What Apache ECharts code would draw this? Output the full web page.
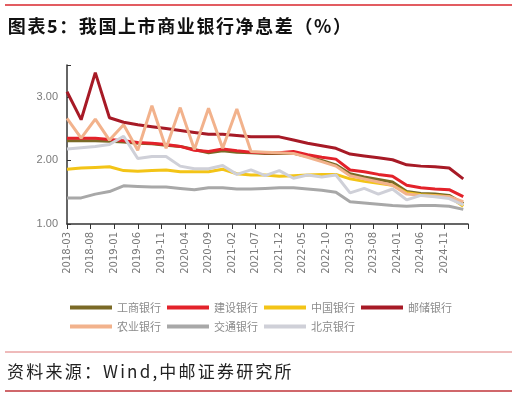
<!DOCTYPE html>
<html>
<head>
<meta charset="utf-8">
<script src="https://cdn.jsdelivr.net/npm/echarts@6/dist/echarts.min.js"></script>
<style>
html,body{margin:0;padding:0;background:#fff;}
#main{width:517px;height:397px;}
</style>
</head>
<body>
<div id="main"></div>
<script>
//季度末日期（数据点）
var quarters=['2018-03','2018-06','2018-09','2018-12','2019-03','2019-06','2019-09','2019-12',
	'2020-03','2020-06','2020-09','2020-12','2021-03','2021-06','2021-09','2021-12',
	'2022-03','2022-06','2022-09','2022-12','2023-03','2023-06','2023-09','2023-12',
	'2024-03','2024-06','2024-09','2024-12','2025-03'];

var icbc=[2.31,2.31,2.31,2.30,2.29,2.27,2.26,2.24,2.22,2.17,2.12,2.15,2.13,2.12,2.11,2.11,
	2.11,2.06,2.00,1.93,1.79,1.74,1.70,1.66,1.51,1.48,1.47,1.45,1.32];
var ccb=[2.35,2.35,2.35,2.33,2.31,2.28,2.27,2.25,2.22,2.16,2.14,2.18,2.15,2.13,2.12,2.12,
	2.14,2.09,2.05,2.02,1.85,1.82,1.78,1.75,1.61,1.57,1.55,1.54,1.43];
var boc=[1.86,1.88,1.89,1.90,1.84,1.83,1.84,1.85,1.82,1.82,1.82,1.86,1.79,1.77,1.77,1.75,
	1.76,1.77,1.78,1.78,1.71,1.67,1.64,1.61,1.49,1.46,1.45,1.43,1.28];
var psbc=[3.08,2.64,3.38,2.67,2.60,2.56,2.53,2.50,2.47,2.44,2.41,2.41,2.39,2.37,2.37,2.37,
	2.32,2.27,2.23,2.19,2.10,2.07,2.04,2.01,1.93,1.91,1.90,1.88,1.71];
var abc=[2.66,2.35,2.65,2.32,2.56,2.16,2.86,2.19,2.83,2.17,2.82,2.19,2.81,2.14,2.13,2.12,
	2.11,2.05,1.98,1.91,1.76,1.71,1.66,1.61,1.47,1.45,1.44,1.43,1.35];
var bocom=[1.41,1.41,1.47,1.51,1.60,1.59,1.58,1.58,1.56,1.54,1.57,1.57,1.55,1.55,1.56,1.57,
	1.57,1.55,1.53,1.50,1.35,1.33,1.31,1.29,1.28,1.29,1.29,1.28,1.23];
var bob=[2.18,2.20,2.22,2.25,2.38,2.03,2.06,2.06,1.91,1.87,1.87,1.92,1.78,1.85,1.76,1.84,
	1.72,1.77,1.74,1.77,1.49,1.56,1.47,1.55,1.38,1.45,1.43,1.40,1.30];

var names=['工商银行','建设银行','中国银行','邮储银行','农业银行','交通银行','北京银行'];
var colors=['#7a6a26','#e3222a','#f3c417','#a71a26','#f2b28c','#a8a8a8','#cfd0d8'];
var values=[icbc,ccb,boc,psbc,abc,bocom,bob];

//横轴按月，2018-03 到 2025-04
var months=[];
for(var y=2018,m=3;y*12+m<=2025*12+4;){
	months.push(y+'-'+(m<10?'0'+m:m));
	m++;
	if(m>12){m=1;y++;}
}

var series=[];
names.forEach(function(name,i){
	series.push({
		name:name,
		type:'line',
		showSymbol:false,
		lineStyle:{width:3,color:colors[i]},
		itemStyle:{color:colors[i]},
		data:quarters.map(function(q,j){return [q,values[i][j]];})
	});
});

//字间距：逐字拆成富文本
function spaced(str){
	return str.split('').map(function(c){return '{s|'+c+'}';}).join('');
}

var myChart=echarts.init(document.getElementById('main'));
var legendCommon={
	left:65,
	orient:'horizontal',
	icon:'rect',
	itemWidth:42,
	itemHeight:4,
	itemGap:6,
	textStyle:{color:'#8c8c8c',fontSize:11,fontFamily:'Noto Sans CJK SC'}
};
myChart.setOption({
	animation:false,
	grid:{left:67,right:49,top:65,bottom:173},
	legend:[
		Object.assign({top:297,data:names.slice(0,4)},legendCommon),
		Object.assign({top:316,data:names.slice(4)},legendCommon)
	],
	xAxis:{
		type:'category',
		data:months,
		boundaryGap:false,
		axisLine:{lineStyle:{color:'#333',width:1.5}},
		axisTick:{
			length:5,
			lineStyle:{color:'#333'},
			interval:function(index){return index%5===0;}
		},
		axisLabel:{
			rotate:90,
			margin:8,
			color:'#7a7a7a',
			fontSize:10,
			fontFamily:'DejaVu Sans',
			interval:function(index){return index%5===0&&index<85;}
		}
	},
	yAxis:{
		type:'value',
		min:1,
		max:3.5,
		interval:1,
		splitLine:{show:false},
		axisLine:{show:true,lineStyle:{color:'#333',width:1.5}},
		axisTick:{show:true,inside:true,length:4,lineStyle:{color:'#333'}},
		axisLabel:{
			color:'#7a7a7a',
			fontSize:11,
			margin:9,
			formatter:function(v){return v%1===0?v.toFixed(2):'';}
		}
	},
	series:series,
	graphic:[
		{type:'line',shape:{x1:5,y1:5,x2:512,y2:5},style:{stroke:'#d8262c',lineWidth:1.5}},
		{type:'text',x:7,y:26,style:{text:spaced('图表5：我国上市商业银行净息差（%）'),
			verticalAlign:'middle',
			rich:{s:{fontSize:18,fontWeight:'bold',fontFamily:'Noto Sans CJK SC',fill:'#111',padding:[0,0.8,0,0.8]}}}},
		{type:'line',shape:{x1:5,y1:352,x2:512,y2:352},style:{stroke:'#df7777',lineWidth:1}},
		{type:'text',x:6,y:372,style:{text:spaced('资料来源：Wind,中邮证券研究所'),
			verticalAlign:'middle',
			rich:{s:{fontSize:17,fontFamily:'Noto Sans CJK SC',fill:'#222',padding:[0,1.1,0,1.1]}}}},
		{type:'line',shape:{x1:5,y1:391,x2:512,y2:391},style:{stroke:'#c0343a',lineWidth:1.5}}
	]
});
</script>
</body>
</html>
